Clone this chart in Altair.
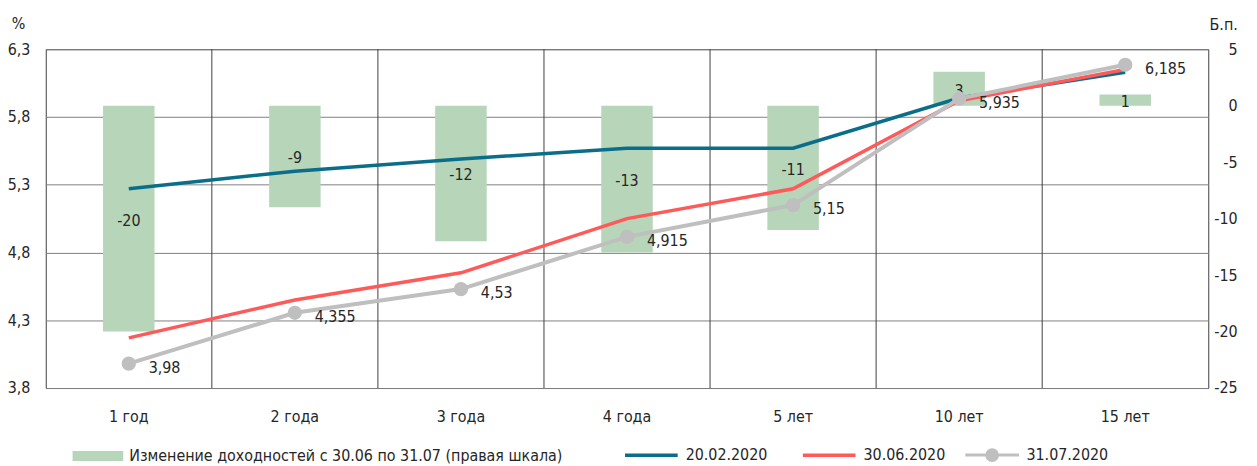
import altair as alt
import pandas as pd

# ---------------- data ----------------
cats = ["1 год", "2 года", "3 года", "4 года", "5 лет", "10 лет", "15 лет"]
change_bp = [-20, -9, -12, -13, -11, 3, 1]
y_2002 = [5.27, 5.40, 5.49, 5.57, 5.57, 5.94, 6.13]
y_3006 = [4.17, 4.45, 4.65, 5.05, 5.27, 5.92, 6.15]
y_3107 = [3.98, 4.355, 4.53, 4.915, 5.15, 5.935, 6.185]

bar_name = "Изменение доходностей  с 30.06 по 31.07 (правая шкала)"
dates12 = ["20.02.2020", "30.06.2020"]
date3 = "31.07.2020"

left_ticks = [3.8, 4.3, 4.8, 5.3, 5.8, 6.3]
right_ticks = [5, 0, -5, -10, -15, -20, -25]

FONT = "'DejaVu Sans Condensed', 'Liberation Sans Narrow', Roboto, sans-serif"
FS = 16
TXT = "#262626"
GREEN = "#b7d5b9"
TEAL = "#0a6e8a"
RED = "#ff5a5a"
GREY = "#bfbfbf"

bars_df = pd.DataFrame({"cat": cats, "change": change_bp, "series": bar_name})
lines_df = pd.DataFrame({
    "cat": cats * 2,
    "value": y_2002 + y_3006,
    "date": [dates12[0]] * len(cats) + [dates12[1]] * len(cats),
})
grey_df = pd.DataFrame({"cat": cats, "value": y_3107, "date": date3})
edges_df = pd.DataFrame({"cat": cats[1:]})

xscale = alt.Scale(domain=cats, paddingInner=0, paddingOuter=0)
xaxis = alt.Axis(title=None, labelAngle=0, ticks=False, domain=False,
                 grid=False, labelPadding=21)
x_enc = alt.X("cat:N", scale=xscale, axis=xaxis)

rscale = alt.Scale(domain=[-25, 5], nice=False, zero=False)
lscale = alt.Scale(domain=[3.8, 6.3], nice=False, zero=False)

raxis = alt.Axis(orient="right", values=right_ticks, grid=False, ticks=False,
                 domain=False, labelExpr="'' + datum.value",
                 labelAlign="right", labelPadding=29, labelBaseline="middle",
                 title="Б.п.", titleAngle=0, titleX=15, titleY=-25,
                 titleAlign="center", titleBaseline="middle")
laxis = alt.Axis(orient="left", values=left_ticks, grid=True,
                 gridColor="#808080", gridWidth=1, ticks=False, domain=False,
                 labelExpr="replace(format(datum.value, '.1f'), '.', ',')",
                 labelPadding=16, labelBaseline="middle",
                 title="%", titleAngle=0, titleX=-28, titleY=-26,
                 titleAlign="center", titleBaseline="middle")

# ---------------- bars (right scale) ----------------
bar_sym = "M-1,-0.196H1V0.196H-1Z"
bars = alt.Chart(bars_df).mark_bar(width=alt.RelativeBandSize(0.31)).encode(
    x=x_enc,
    y=alt.Y("change:Q", scale=rscale, axis=raxis),
    fill=alt.Fill("series:N", scale=alt.Scale(domain=[bar_name], range=[GREEN]),
                  legend=alt.Legend(orient="none", legendX=27, legendY=384, title=None,
                                    symbolType=bar_sym, symbolSize=2601,
                                    symbolStrokeWidth=0, symbolFillColor=GREEN,
                                    labelOffset=6, labelLimit=600)),
)
bar_text = alt.Chart(bars_df).transform_calculate(
    half="datum.change / 2", lbl="'' + datum.change"
).mark_text(baseline="middle", fontSize=FS, color=TXT, dy=2).encode(
    x=x_enc,
    y=alt.Y("half:Q", scale=rscale, axis=raxis),
    text="lbl:N",
)
bar_group = alt.layer(bars, bar_text)

# ---------------- lines (left scale) ----------------
edges = alt.Chart(edges_df).mark_rule(color="#404040", strokeWidth=1).encode(
    x=alt.X("cat:N", scale=xscale, bandPosition=0, axis=xaxis)
)

lines12 = alt.Chart(lines_df).mark_line(strokeWidth=3.5).encode(
    x=x_enc,
    y=alt.Y("value:Q", scale=lscale, axis=laxis),
    stroke=alt.Stroke("date:N", scale=alt.Scale(domain=dates12, range=[TEAL, RED]),
                      legend=alt.Legend(orient="none", legendX=581, legendY=380,
                                        direction="horizontal", title=None,
                                        symbolType="stroke", symbolSize=2809,
                                        symbolStrokeWidth=3.5, columnPadding=28,
                                        labelOffset=6)),
)

grey_sym = ("M-1,0H1"
            "M-0.2,0a0.2,0.2 0 1,0 0.4,0a0.2,0.2 0 1,0 -0.4,0"
            "M-0.1,0a0.1,0.1 0 1,0 0.2,0a0.1,0.1 0 1,0 -0.2,0"
            "M-0.03,0a0.03,0.03 0 1,0 0.06,0a0.03,0.03 0 1,0 -0.06,0")
grey_line = alt.Chart(grey_df).mark_line(
    strokeWidth=4, point=alt.OverlayMarkDef(filled=True, size=154, color=GREY)
).encode(
    x=x_enc,
    y=alt.Y("value:Q", scale=lscale, axis=laxis),
    stroke=alt.Stroke("date:N", scale=alt.Scale(domain=[date3], range=[GREY]),
                      legend=alt.Legend(orient="none", legendX=924, legendY=380,
                                        title=None, symbolType=grey_sym,
                                        symbolSize=2916, symbolStrokeWidth=3,
                                        symbolFillColor=GREY, labelOffset=6)),
)
grey_text = alt.Chart(grey_df).transform_calculate(
    lbl="replace('' + datum.value, '.', ',')"
).mark_text(align="left", baseline="middle", dx=20, dy=4, fontSize=FS, color=TXT).encode(
    x=x_enc,
    y=alt.Y("value:Q", scale=lscale, axis=laxis),
    text="lbl:N",
)

line_group = alt.layer(edges, lines12, grey_line, grey_text).resolve_scale(
    stroke="independent")

chart = alt.layer(bar_group, line_group).resolve_scale(
    y="independent", stroke="independent"
).properties(
    width=1170, height=341,
    autosize=alt.AutoSizeParams(type="none"),
    padding={"left": 38, "top": 40, "right": 41, "bottom": 77},
).configure(
    font=FONT
).configure_axis(
    labelFont=FONT, titleFont=FONT, labelFontSize=FS, titleFontSize=FS,
    labelColor=TXT, titleColor=TXT, titleFontWeight="normal"
).configure_legend(
    labelFont=FONT, labelFontSize=FS, labelColor=TXT, padding=0
).configure_text(
    font=FONT
).configure_view(
    stroke="#404040", strokeWidth=1
)

chart.save("out.html", embed_options={"renderer": "svg", "actions": False})
